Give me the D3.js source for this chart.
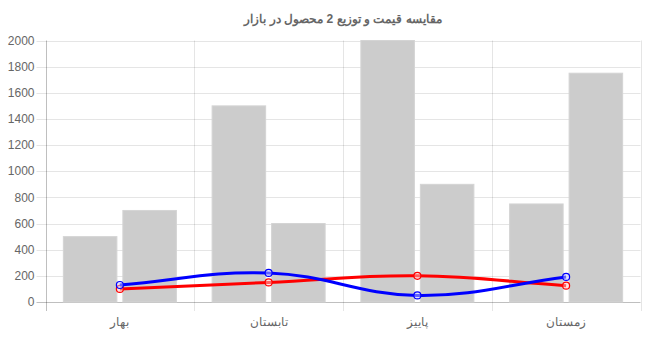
<!DOCTYPE html>
<html><head><meta charset="utf-8">
<script src="https://cdn.jsdelivr.net/npm/d3@7"></script>
<style>body{margin:0;background:#fff}text{font-family:"Liberation Sans",Arial,sans-serif}</style>
</head><body><svg id="c" width="660" height="349"></svg>
<script>
const title = "مقایسه قیمت و توزیع 2 محصول در بازار";
const categories = ["بهار", "تابستان", "پاییز", "زمستان"];
const bar1 = [500, 1500, 2000, 750];
const bar2 = [700, 600, 900, 1750];
const lineBlue = [130, 222, 50, 192];
const lineRed = [100, 150, 200, 125];
const yTicks = [0, 200, 400, 600, 800, 1000, 1200, 1400, 1600, 1800, 2000];

const svg = d3.select("#c");
const L = 45.5, R = 640.5, T = 40.5, B = 302;
const x = d3.scaleBand().domain(categories).range([L, R]);
const y = d3.scaleLinear().domain([0, 2000]).range([B, T]);
const grid = "rgba(0,0,0,0.1)";

// horizontal grid
svg.append("g").selectAll("line").data(yTicks).join("line")
  .attr("x1", L - 9).attr("x2", R).attr("y1", d => Math.round(y(d)) + 0.5).attr("y2", d => Math.round(y(d)) + 0.5)
  .attr("stroke", d => d === 0 ? "rgba(0,0,0,0.25)" : grid);
// vertical grid
const vx = categories.map(c => x(c)).concat([R]);
svg.append("g").selectAll("line").data(vx).join("line")
  .attr("x1", d => Math.round(d) + 0.5).attr("x2", d => Math.round(d) + 0.5)
  .attr("y1", T).attr("y2", B + 9)
  .attr("stroke", (d, i) => i === 0 ? "rgba(0,0,0,0.25)" : grid);

// y labels
svg.append("g").selectAll("text").data(yTicks).join("text")
  .attr("x", L - 11).attr("y", d => y(d)).attr("dy", "0.35em")
  .attr("text-anchor", "end").attr("font-size", 12).attr("fill", "#666").text(d => d);
// x labels
svg.append("g").selectAll("text").data(categories).join("text")
  .attr("x", d => x(d) + x.bandwidth() / 2).attr("y", 322).attr("dy", "0.35em")
  .attr("text-anchor", "middle").attr("font-size", 12).attr("fill", "#666").text(d => d);

// bars
const inner = d3.scaleBand().domain([0, 1]).range([0, x.bandwidth() * 0.8]).paddingInner(0.1).paddingOuter(0.05);
const off = x.bandwidth() * 0.1;
[bar1, bar2].forEach((s, k) => {
  svg.append("g").selectAll("rect").data(s).join("rect")
    .attr("x", (d, i) => x(categories[i]) + off + inner(k))
    .attr("width", inner.bandwidth())
    .attr("y", d => y(d)).attr("height", d => B - y(d))
    .attr("fill", "#cccccc").attr("stroke", "#d4d4d4").attr("stroke-width", 1);
});

// Chart.js style spline
function spline(pts, t) {
  const p = d3.path();
  const cps = pts.map((c, i) => {
    const prev = pts[i - 1] || c, next = pts[i + 1] || c;
    const d01 = Math.hypot(c[0] - prev[0], c[1] - prev[1]);
    const d12 = Math.hypot(next[0] - c[0], next[1] - c[1]);
    let s01 = d01 / (d01 + d12), s12 = d12 / (d01 + d12);
    if (isNaN(s01)) s01 = 0; if (isNaN(s12)) s12 = 0;
    const fa = t * s01, fb = t * s12;
    return {
      prev: [c[0] - fa * (next[0] - prev[0]), c[1] - fa * (next[1] - prev[1])],
      next: [c[0] + fb * (next[0] - prev[0]), c[1] + fb * (next[1] - prev[1])]
    };
  });
  p.moveTo(pts[0][0], pts[0][1]);
  for (let i = 1; i < pts.length; i++) {
    const a = cps[i - 1].next, b = cps[i].prev;
    p.bezierCurveTo(a[0], a[1], b[0], b[1], pts[i][0], pts[i][1]);
  }
  return p.toString();
}

[[lineRed, "#ff0000", "rgba(255,200,200,0.5)"], [lineBlue, "#0000ff", "rgba(200,200,255,0.5)"]].forEach(([s, col, fill]) => {
  const pts = s.map((d, i) => [x(categories[i]) + x.bandwidth() / 2, y(d)]);
  svg.append("path").attr("d", spline(pts, 0.4)).attr("fill", "none")
    .attr("stroke", col).attr("stroke-width", 3);
  svg.append("g").selectAll("circle").data(pts).join("circle")
    .attr("cx", d => d[0]).attr("cy", d => d[1]).attr("r", 3.5)
    .attr("fill", fill).attr("stroke", col).attr("stroke-width", 1.2);
});

svg.append("text").attr("x", (L + R) / 2).attr("y", 19).attr("dy", "0.35em")
  .attr("text-anchor", "middle").attr("font-size", 12).attr("font-weight", "bold")
  .attr("fill", "#666").text(title);
</script></body></html>
